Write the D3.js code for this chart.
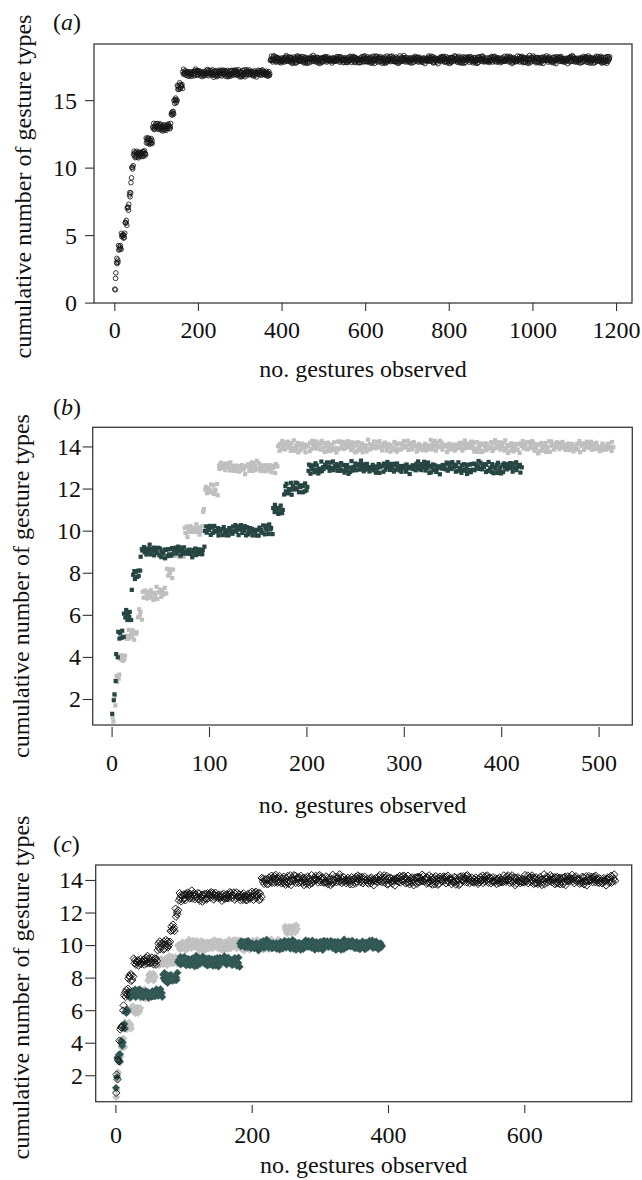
<!DOCTYPE html>
<html><head><meta charset="utf-8">
<script src="https://cdn.jsdelivr.net/npm/d3@7"></script>
<style>
body{margin:0;background:#fff}
svg text{font-family:'Liberation Serif','Times New Roman',serif;fill:#111}
</style>
</head><body>
<svg id="chart" width="642" height="1180"></svg>
<script>
// ---------------- data ----------------
// For every series: the gesture index at which the k-th gesture type was first seen,
// and the total number of gestures observed. Cumulative count per gesture is derived.
const aFirstSeen = [1,3,5,10,17,26,31,36,40,42,46,76,92,136,143,151,164,373];
const aTotal = 1185;

const bGreyFirstSeen = [1,3,5,9,15,27,32,57,64,75,94,96,110,171];
const bGreyTotal = 515;
const bDarkFirstSeen = [1,2,4,5,7,13,21,22,30,96,166,177,202];
const bDarkTotal = 421;

const cGreyFirstSeen = [1,3,5,9,14,24,37,48,59,92,249];
const cGreyTotal = 266;
const cTealFirstSeen = [1,2,3,8,12,15,19,70,92,183];
const cTealTotal = 391;
const cBlackFirstSeen = [1,2,4,6,7,11,13,19,27,62,81,88,93,215];
const cBlackTotal = 733;

const aXTicks = [0,200,400,600,800,1000,1200];
const aYTicks = [0,5,10,15];
const bXTicks = [0,100,200,300,400,500];
const bYTicks = [2,4,6,8,10,12,14];
const cXTicks = [0,200,400,600];
const cYTicks = [2,4,6,8,10,12,14];

const xTitle = "no. gestures observed";
const yTitle = "cumulative number of gesture types";

// fixed display jitter pattern (like R's jitter()), not data
const jitA = [0.83,-0.41,0.12,-0.95,0.57,-0.22,0.98,-0.68,0.31,-0.07,0.74,-0.88,0.45,-0.53,0.02,0.91,-0.34,0.66,-0.79,0.19,-0.14,0.52,-0.97,0.38,-0.61,0.87,-0.27,0.09,-0.46,0.71,-0.83,0.26,-0.02,0.61,-0.73,0.95,-0.18,0.42,-0.91,0.15,-0.57,0.79,-0.36,0.04,-0.65,0.48,-0.11];
const jitB = [-0.62,0.35,0.93,-0.17,-0.84,0.58,0.06,-0.49,0.77,-0.31,0.21,-0.96,0.64,-0.08,0.44,-0.72,0.89,-0.39,0.13,-0.55,0.69,-0.24,0.99,-0.81,0.28,-0.03,0.51,-0.67,0.36,-0.9,0.17];

// ---------------- helpers ----------------
function cumulative(firstSeen, total, s, amp){
  const pts = [];
  let k = 0;
  for (let i = 1; i <= total; i++){
    while (k < firstSeen.length && firstSeen[k] <= i) k++;
    const jy = jitA[(i + 7*s) % jitA.length]*0.7 + jitB[(2*i + 3*s) % jitB.length]*0.3;
    const jx = jitB[(i + 5*s) % jitB.length]*0.4;
    pts.push({x: i + jx, y: k + amp*jy, n: k});
  }
  return pts;
}

const svg = d3.select("#chart");
const FS = 24;

function panel(cfg){
  const g = svg.append("g");
  const x = d3.scaleLinear().domain(cfg.xDom).range([cfg.box.l, cfg.box.r]);
  const y = d3.scaleLinear().domain(cfg.yDom).range([cfg.box.b, cfg.box.t]);

  // points
  cfg.series.forEach(s => {
    const pts = cumulative(s.first, s.total, s.seed, s.amp);
    const sg = g.append("g");
    if (s.shape === "circle"){
      sg.selectAll("circle").data(pts).join("circle")
        .attr("cx", d => x(d.x)).attr("cy", d => y(d.y)).attr("r", s.size)
        .attr("fill", "none").attr("stroke", s.color).attr("stroke-width", s.sw);
    } else if (s.shape === "square"){
      sg.selectAll("rect").data(pts).join("rect")
        .attr("x", d => x(d.x) - s.size/2).attr("y", d => y(d.y) - s.size/2)
        .attr("width", s.size).attr("height", s.size).attr("fill", s.color);
    } else {
      const sym = d3.symbol(d3.symbolSquare, s.size*s.size);
      sg.selectAll("path").data(pts).join("path")
        .attr("d", sym)
        .attr("transform", d => `translate(${x(d.x)},${y(d.y)}) rotate(45)`)
        .attr("fill", s.fill).attr("stroke", s.color).attr("stroke-width", s.sw);
    }
  });

  // box
  g.append("rect").attr("x", cfg.box.l).attr("y", cfg.box.t)
    .attr("width", cfg.box.r - cfg.box.l).attr("height", cfg.box.b - cfg.box.t)
    .attr("fill", "none").attr("stroke", "#3a3a3a").attr("stroke-width", 1.3);

  // x axis
  const xa = g.append("g").attr("transform", `translate(0,${cfg.xAxisY})`)
    .call(d3.axisBottom(x).tickValues(cfg.xTicks).tickSize(cfg.xTickLen).tickSizeOuter(0).tickFormat(d3.format("d")));
  xa.select(".domain").remove();
  xa.attr("font-size", null).attr("font-family", null);
  xa.selectAll("line").attr("stroke", "#333").attr("stroke-width", 1.1);
  xa.selectAll("text").attr("y", cfg.xLabelBase - cfg.xAxisY).attr("dy", null)
    .attr("font-size", FS).attr("fill", "#111");

  // y axis
  const ya = g.append("g").attr("transform", `translate(${cfg.box.l},0)`)
    .call(d3.axisLeft(y).tickValues(cfg.yTicks).tickSize(cfg.yTickLen).tickSizeOuter(0).tickFormat(d3.format("d")));
  ya.select(".domain").remove();
  ya.attr("font-size", null).attr("font-family", null);
  ya.selectAll("line").attr("stroke", "#333").attr("stroke-width", 1.1);
  ya.selectAll("text").attr("x", cfg.yLabelRight - cfg.box.l).attr("dy", "0.33em")
    .attr("font-size", FS).attr("fill", "#111");

  // titles
  g.append("text").attr("x", (cfg.box.l + cfg.box.r)/2).attr("y", cfg.xTitleBase)
    .attr("text-anchor", "middle").attr("font-size", FS).text(xTitle);
  g.append("text").attr("transform", `translate(${cfg.yTitleX},${cfg.yTitleC}) rotate(-90)`)
    .attr("text-anchor", "middle").attr("font-size", FS).text(yTitle);

  // panel label
  const lab = g.append("text").attr("x", 53).attr("y", cfg.labelBase).attr("font-size", FS);
  lab.append("tspan").text("(");
  lab.append("tspan").attr("font-style", "italic").text(cfg.label);
  lab.append("tspan").text(")");
}

panel({
  box: {l:94, t:44, r:632, b:303},
  xDom: [-48.6, 1238.2], yDom: [-0.03, 19.16],
  xTicks: aXTicks, yTicks: aYTicks,
  xAxisY: 303, xTickLen: 8, xLabelBase: 338,
  yTickLen: 9, yLabelRight: 77,
  xTitleBase: 377, yTitleX: 31, yTitleC: 186.5,
  label: "a", labelBase: 30,
  series: [
    {first: aFirstSeen, total: aTotal, seed: 0, amp: 0.32, shape: "circle", size: 2.3, color: "#161616", sw: 0.85}
  ]
});

panel({
  box: {l:92.7, t:427.3, r:632.3, b:725},
  xDom: [-19.4, 534.6], yDom: [0.765, 14.91],
  xTicks: bXTicks, yTicks: bYTicks,
  xAxisY: 727, xTickLen: 10, xLabelBase: 771,
  yTickLen: 10, yLabelRight: 81,
  xTitleBase: 813, yTitleX: 29, yTitleC: 586,
  label: "b", labelBase: 415,
  series: [
    {first: bGreyFirstSeen, total: bGreyTotal, seed: 1, amp: 0.34, shape: "square", size: 4.2, color: "#bfbfbf"},
    {first: bDarkFirstSeen, total: bDarkTotal, seed: 2, amp: 0.34, shape: "square", size: 4.2, color: "#264542"}
  ]
});

panel({
  box: {l:95.7, t:865, r:631.7, b:1101.7},
  xDom: [-28.9, 757.6], yDom: [0.375, 14.92],
  xTicks: cXTicks, yTicks: cYTicks,
  xAxisY: 1105, xTickLen: 8, xLabelBase: 1143,
  yTickLen: 10.5, yLabelRight: 83,
  xTitleBase: 1173, yTitleX: 29, yTitleC: 987.5,
  label: "c", labelBase: 852,
  series: [
    {first: cGreyFirstSeen, total: cGreyTotal, seed: 3, amp: 0.36, shape: "diamond", size: 5.2, fill: "#c6c6c6", color: "#b8b8b8", sw: 0.6},
    {first: cTealFirstSeen, total: cTealTotal, seed: 4, amp: 0.36, shape: "diamond", size: 5.2, fill: "#2d5451", color: "#3d6360", sw: 0.6},
    {first: cBlackFirstSeen, total: cBlackTotal, seed: 5, amp: 0.36, shape: "diamond", size: 5.2, fill: "none", color: "#111", sw: 0.9}
  ]
});
</script>
</body></html>
